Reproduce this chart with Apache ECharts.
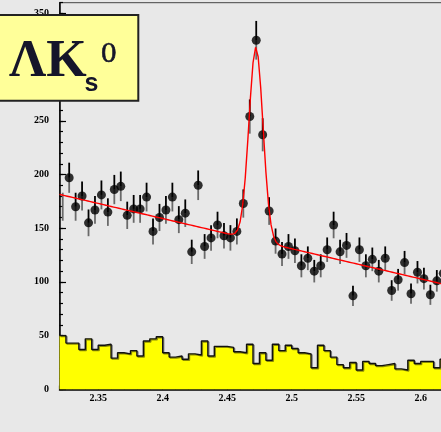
<!DOCTYPE html>
<html><head><meta charset="utf-8">
<script src="https://cdn.jsdelivr.net/npm/echarts@6/dist/echarts.min.js"></script>
<style>html,body{margin:0;padding:0;background:#e8e8e8}#c{width:441px;height:432px}</style>
</head><body><div id="c"></div>
<script>
// binning
const binStart = 2.32;
const binWidth = 0.005;
// data points (counts per bin)
const pointCounts = [170,197,170,180,155,167,181,165,186,189,162,168,168,179,147,160,167,179,158,164,
  128,190,133,141,153,143,141,147,173,254,325,237,166,138,126,133,129,115,122,110,
  115,130,153,128,134,87,130,115,121,110,122,92,102,118,89,109,103,88,101,108];
// yellow histogram (counts per bin)
const histCounts = [50,43,43,37,47,37,41,42,29,34,33,36,31,45,47,49,34,30,31,28,
  33,32,45,31,40,40,39,35,34,42,24,34,27,42,36,41,38,34,33,20,
  41,36,30,23,20,25,18,26,24,22,23,24,19,18,27,24,26,26,20,28];
// fit parameters: linear background + gaussian
const fitBg0 = 181.5, fitSlope = -281, fitAmp = 180, fitMean = 2.4723, fitSigma = 0.00543;
const xMin = 2.32, xMax = 2.64, yMin = 0, yMax = 360;
const yTickLabels = [0,50,100,150,200,250,300,350];

const pts = pointCounts.map((v,i)=>[binStart + binWidth*(i+0.5), v, i===0?0:1]);
const histLine = histCounts.map((v,i)=>[binStart + binWidth*i, v]);
histLine.push([binStart + binWidth*histCounts.length, histCounts[histCounts.length-1]]);
const fitLine = [];
for (let x = xMin; x <= xMax + 1e-9; x += 0.002) {
  const y = fitBg0 + fitSlope*(x - xMin) + fitAmp*Math.exp(-0.5*Math.pow((x - fitMean)/fitSigma, 2));
  fitLine.push([x, y]);
}

const lblFont = {fontFamily:'Liberation Serif', fontWeight:'bold', fontSize:10, color:'#000'};
const chart = echarts.init(document.getElementById('c'), null, {renderer:'canvas'});
chart.setOption({
  backgroundColor:'#e8e8e8',
  animation:false,
  grid:{left:59.5, top:2.7, width:412.8, height:386.6, show:true, borderColor:'#444', borderWidth:1,
        backgroundColor:'transparent', containLabel:false, outerBoundsMode:'none'},
  xAxis:[
    {type:'value', min:xMin, max:xMax, interval:0.01, position:'bottom',
     axisLine:{show:true, onZero:false, lineStyle:{color:'#000', width:1.5}},
     axisTick:{show:true, inside:true, length:3.7, lineStyle:{color:'#000', width:1.2}},
     axisLabel:{show:false}, splitLine:{show:false}},
    {type:'value', min:xMin, max:xMax, splitNumber:6, position:'bottom',
     axisLine:{show:false, onZero:false},
     axisTick:{show:true, inside:true, length:7, lineStyle:{color:'#000', width:1.2}},
     axisLabel:Object.assign({showMinLabel:false, showMaxLabel:false, margin:4,
       formatter:v=>String(+(+v).toFixed(2))}, lblFont),
     splitLine:{show:false}}
  ],
  yAxis:[
    {type:'value', min:yMin, max:yMax, interval:10, position:'left',
     axisLine:{show:true, onZero:false, lineStyle:{color:'#000', width:1.5}},
     axisTick:{show:true, inside:true, length:3.5, lineStyle:{color:'#000', width:1.2}},
     axisLabel:{show:false}, splitLine:{show:false}},
    {type:'value', min:yMin, max:yMax, interval:50, position:'left',
     axisLine:{show:false, onZero:false},
     axisTick:{show:true, inside:true, length:6.5, lineStyle:{color:'#000', width:1.2}},
     axisLabel:Object.assign({showMaxLabel:false, margin:10.5,
       formatter:v=>yTickLabels.indexOf(v)>=0?String(v):''}, lblFont),
     splitLine:{show:false}}
  ],
  series:[
    {type:'line', xAxisIndex:0, yAxisIndex:0, data:histLine, step:'end', symbol:'none', z:1,
     lineStyle:{color:'#111', width:1.4, shadowColor:'rgba(0,0,0,0.45)', shadowOffsetX:1, shadowOffsetY:1, shadowBlur:0},
     areaStyle:{color:'#ffff00', opacity:1}},
    {type:'custom', xAxisIndex:0, yAxisIndex:0, data:pts, z:3,
     renderItem:(params, api)=>{
       const x = api.value(0), v = api.value(1), m = api.value(2), e = Math.sqrt(v);
       const t = api.coord([x, v+e]), c = api.coord([x, v]), b = api.coord([x, v-e]);
       return {type:'group', children:[
         {type:'line', shape:{x1:t[0], y1:t[1], x2:c[0], y2:c[1]}, style:{stroke:m?'#000':'#6a6a6a', lineWidth:1.8}},
         {type:'line', shape:{x1:c[0], y1:c[1], x2:b[0], y2:b[1]}, style:{stroke:'#6a6a6a', lineWidth:1.8}}
       ]};
     }},
    {type:'scatter', xAxisIndex:0, yAxisIndex:0, data:pts.filter(p=>p[2]===1), symbol:'circle', symbolSize:9, z:4,
     itemStyle:{color:'#000'}},
    {type:'line', xAxisIndex:0, yAxisIndex:0, data:fitLine, symbol:'none', z:5, smooth:false,
     lineStyle:{color:'#ff0000', width:1.4}}
  ],
  graphic:[
    {type:'rect', z:100, shape:{x:-3, y:15, width:141.3, height:85.7}, style:{fill:'#ffff99', stroke:'#222', lineWidth:2}},
    {type:'text', z:101, x:9, y:62.3, style:{text:'ΛK', font:'bold 52px "Liberation Serif"', fill:'#15152a', textVerticalAlign:'middle'}},
    {type:'text', z:101, x:84.5, y:84.5, style:{text:'s', font:'bold 25px "Liberation Sans"', fill:'#15152a', textVerticalAlign:'middle'}},
    {type:'text', z:101, x:100.5, y:55, style:{text:'0', font:'26px "DejaVu Serif"', fill:'#15152a', stroke:'#15152a', lineWidth:0.6, textVerticalAlign:'middle'}}
  ]
});
</script></body></html>
